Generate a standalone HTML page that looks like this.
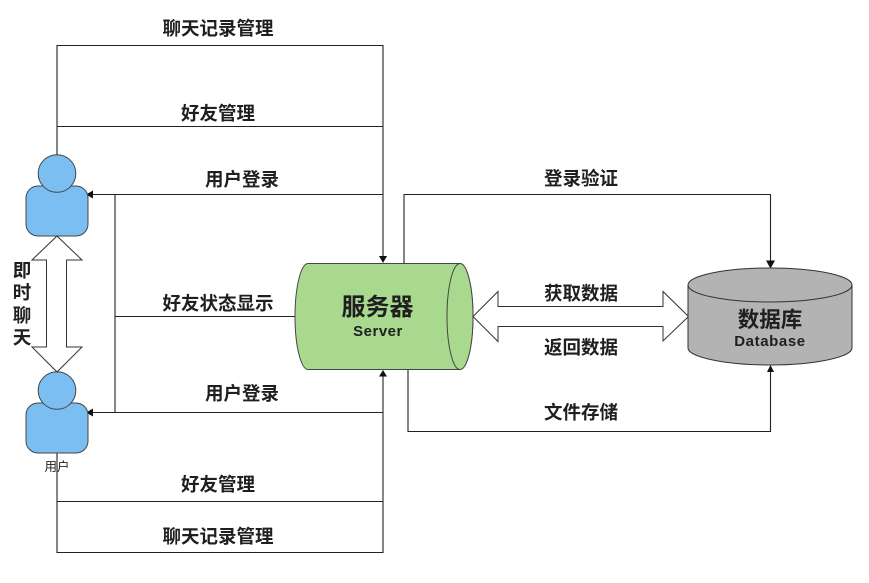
<!DOCTYPE html>
<html lang="zh">
<head>
<meta charset="utf-8">
<style>
html,body{margin:0;padding:0;background:#fff;width:869px;height:583px;overflow:hidden}
svg{display:block;filter:blur(.35px)}
text{font-family:"Liberation Sans","Noto Sans CJK SC",sans-serif;fill:#1f1f1f;text-anchor:middle}
.l{font-size:18.5px;font-weight:700}
.ln{fill:none;stroke:#222;stroke-width:1.1}
.ar{fill:#111}
</style>
</head>
<body>
<svg width="869" height="583" viewBox="0 0 869 583" xmlns="http://www.w3.org/2000/svg">
  <!-- connectors -->
  <path class="ln" d="M57 155V45.500H383V257"/>
  <path class="ln" d="M57 126.500H383"/>
  <path class="ln" d="M383 194.500H93"/>
  <path class="ln" d="M115 194.500V412.500"/>
  <path class="ln" d="M115 316.500H296"/>
  <path class="ln" d="M383 412.500H93"/>
  <path class="ln" d="M57 453V552.500H383V376"/>
  <path class="ln" d="M57 501.500H383"/>
  <path class="ln" d="M404 263V194.500H770.500V261"/>
  <path class="ln" d="M408 370V431.500H770.500V371"/>
  <!-- arrowheads -->
  <path class="ar" d="M383 263L379 256H387Z"/>
  <path class="ar" d="M383 370L379 376.500H387Z"/>
  <path class="ar" d="M86 194.500L93 190.500V198.500Z"/>
  <path class="ar" d="M86 412.500L93 408.500V416.500Z"/>
  <path class="ar" d="M770.500 268.500L766 260.500H775Z"/>
  <path class="ar" d="M770.500 365L767 372H774Z"/>
  <!-- persons -->
  <g fill="#7bbff2" stroke="#444" stroke-width="1">
    <rect x="26" y="186" width="62" height="50" rx="12"/>
    <circle cx="57" cy="173.500" r="18.800"/>
    <rect x="26" y="403" width="62" height="50" rx="12"/>
    <circle cx="57" cy="390.500" r="18.800"/>
  </g>
  <!-- chat double arrow -->
  <path d="M57 236L82 260H66.500V347H82L57 372L32 347H46.500V260H32Z" fill="#fff" stroke="#333" stroke-width="1"/>
  <!-- server cylinder -->
  <path d="M308 263.500H460C467 263.500 473 287 473 316.500C473 346 467 369.500 460 369.500H308C301 369.500 295 346 295 316.500C295 287 301 263.500 308 263.500Z" fill="#a9d98f" stroke="#444" stroke-width="1"/>
  <ellipse cx="460" cy="316.500" rx="13" ry="53" fill="#a9d98f" stroke="#444" stroke-width="1"/>
  <!-- big double arrow -->
  <path d="M473 316.500L498 291.500V306.500H663V291.500L688.500 316.500L663 341V326.500H498V341.500Z" fill="#fff" stroke="#333" stroke-width="1"/>
  <!-- database -->
  <path d="M688 285V348C688 357 725 365 770 365C815 365 852 357 852 348V285Z" fill="#b3b3b3" stroke="#333" stroke-width="1"/>
  <ellipse cx="770" cy="285" rx="82" ry="17" fill="#b3b3b3" stroke="#333" stroke-width="1"/>
  <!-- labels -->
  <text class="l" x="218" y="35">聊天记录管理</text>
  <text class="l" x="218" y="120">好友管理</text>
  <text class="l" x="242" y="186">用户登录</text>
  <text class="l" x="218" y="310">好友状态显示</text>
  <text class="l" x="242" y="400">用户登录</text>
  <text class="l" x="218" y="491">好友管理</text>
  <text class="l" x="218" y="543">聊天记录管理</text>
  <text class="l" x="581" y="185">登录验证</text>
  <text class="l" x="581" y="300">获取数据</text>
  <text class="l" x="581" y="354">返回数据</text>
  <text class="l" x="581" y="419">文件存储</text>
  <text class="l" x="22" y="277">即</text>
  <text class="l" x="22" y="299">时</text>
  <text class="l" x="22" y="322">聊</text>
  <text class="l" x="22" y="344">天</text>
  <text x="57" y="471" font-size="12.500" fill="#333">用户</text>
  <text x="377.500" y="315" font-size="24" font-weight="700">服务器</text>
  <text x="378" y="336" font-size="15" font-weight="700" letter-spacing=".5">Server</text>
  <text x="770" y="327" font-size="21.500" font-weight="700">数据库</text>
  <text x="770" y="346" font-size="15" font-weight="700" letter-spacing=".6">Database</text>
</svg>
</body>
</html>
